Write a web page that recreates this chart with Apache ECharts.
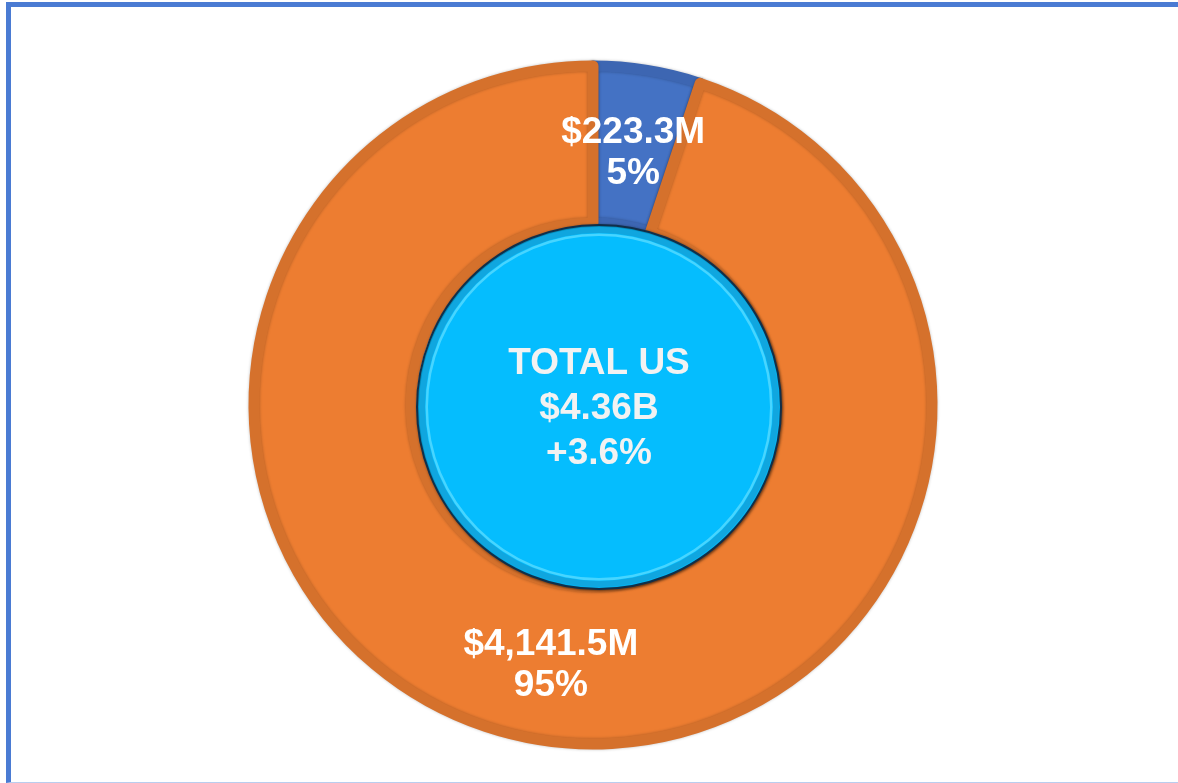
<!DOCTYPE html>
<html>
<head>
<meta charset="utf-8">
<script src="https://cdn.jsdelivr.net/npm/echarts@6/dist/echarts.min.js"></script>
<style>
  html, body { margin: 0; padding: 0; background: #ffffff; overflow: hidden; }
  #chart { position: absolute; left: 0; top: 0; width: 1178px; height: 783px; }
  #frame { position: absolute; left: 6px; top: 2px; width: 1190px; height: 775px;
           border-left: 5px solid #4a7bd3; border-top: 5px solid #4a7bd3;
           border-bottom: 1px solid #b9cdee; pointer-events: none; }
</style>
</head>
<body>
<div id="chart"></div>
<div id="frame"></div>
<script>
// ---- data ----
const categories = ['Segment A', 'Segment B'];
const valuesM = [223.3, 4141.5];           // $ millions
const sliceColors = ['#4472C4', '#ED7D31'];
const sliceBorders = ['#3D66B2', '#D5712C'];
const labelOffsets = [[-2, 8], [0, 0]];
const centerLines = ['TOTAL US', '$4.36B', '+3.6%'];

const chart = echarts.init(document.getElementById('chart'), null, { renderer: 'canvas' });

const FONT = 'Arial, "Liberation Sans", sans-serif';

function money(v) {
  return '$' + v.toLocaleString('en-US', { minimumFractionDigits: 1, maximumFractionDigits: 1 }) + 'M';
}

const donutData = categories.map((c, i) => ({
  name: c,
  value: valuesM[i],
  itemStyle: { color: sliceColors[i], borderColor: sliceBorders[i] },
  label: { offset: labelOffsets[i] }
}));

const total = valuesM.reduce((a, b) => a + b, 0);

chart.setOption({
  animation: false,
  backgroundColor: 'transparent',
  series: [
    {
      type: 'pie',
      silent: true,
      center: [593, 405],
      radius: [182, 339],
      startAngle: 90,
      clockwise: true,
      percentPrecision: 0,
      avoidLabelOverlap: false,
      itemStyle: { borderWidth: 11, shadowBlur: 3, shadowColor: 'rgba(0,0,0,0.25)' },
      label: {
        show: true,
        position: 'inside',
        color: '#ffffff',
        fontFamily: FONT,
        fontWeight: 'bold',
        fontSize: 37,
        lineHeight: 41,
        formatter: p => money(p.value) + '\n' + Math.round(p.percent) + '%'
      },
      labelLine: { show: false },
      emphasis: { disabled: true },
      data: donutData
    },
    {
      type: 'pie',
      silent: true,
      z: 3,
      center: [599, 407],
      radius: [0, 182],
      itemStyle: {
        color: '#05BDFE',
        borderColor: '#102f4a',
        borderWidth: 2,
        shadowBlur: 3,
        shadowOffsetX: 1,
        shadowOffsetY: 1,
        shadowColor: 'rgba(0,0,0,0.5)'
      },
      label: {
        show: true,
        position: 'center',
        color: '#F2F2F2',
        fontFamily: FONT,
        fontWeight: 'bold',
        fontSize: 37,
        lineHeight: 45,
        offset: [0, 2],
        formatter: () => centerLines.join('\n')
      },
      labelLine: { show: false },
      emphasis: { disabled: true },
      data: [{ name: 'Total', value: total }]
    },
    {
      type: 'pie',
      silent: true,
      z: 4,
      center: [599, 407],
      radius: [174, 180],
      itemStyle: { color: '#10A6DF' },
      label: { show: false },
      labelLine: { show: false },
      emphasis: { disabled: true },
      data: [{ name: 'ring', value: total }]
    },
    {
      type: 'pie',
      silent: true,
      z: 5,
      center: [599, 407],
      radius: [171, 173.5],
      itemStyle: { color: '#47D5FF' },
      label: { show: false },
      labelLine: { show: false },
      emphasis: { disabled: true },
      data: [{ name: 'hl', value: total }]
    }
  ]
});
</script>
</body>
</html>
